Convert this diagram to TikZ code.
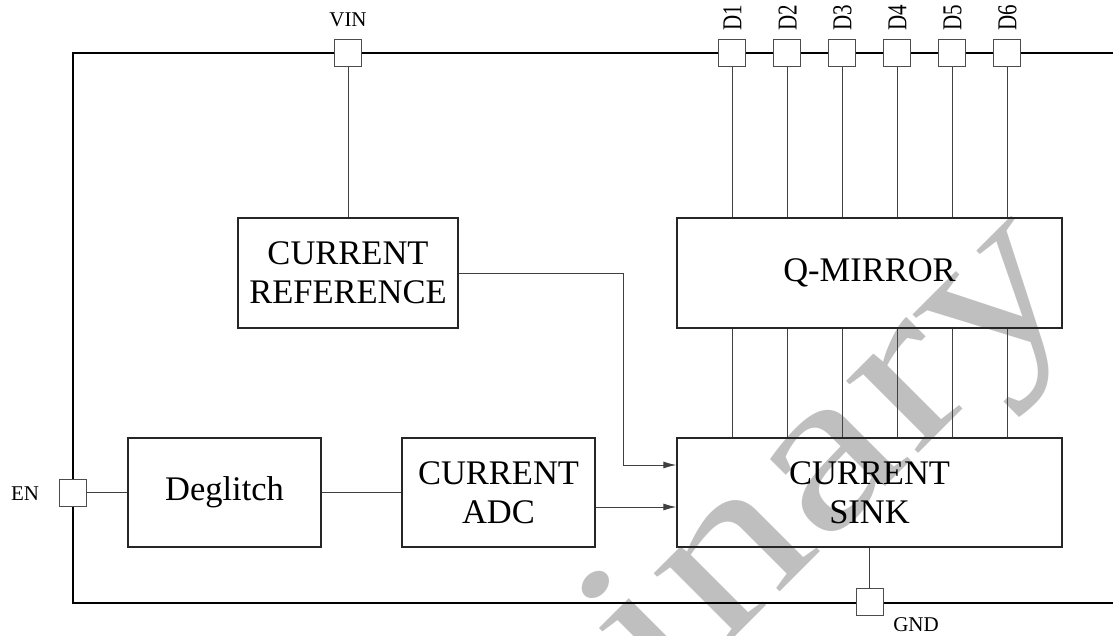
\documentclass[tikz,border=0pt]{standalone}
\usepackage{fontspec}
\setmainfont{Liberation Serif}
\usetikzlibrary{arrows.meta,calc}
\begin{document}
\begin{tikzpicture}[x=1pt,y=-1pt,
  blk/.style={draw=black!85, line width=1.3pt, inner sep=0pt, align=center, font=\fontsize{34.5}{39}\selectfont},
  pin/.style={draw=black!70, fill=white, line width=0.9pt, minimum size=27pt, inner sep=0pt},
  lbl/.style={inner sep=0pt, font=\fontsize{21}{24}\selectfont},
  dlbl/.style={lbl, rotate=90, yscale=1.3},
  wire/.style={draw=black!75, line width=1pt},
  arr/.style={wire, -{Latex[length=13pt,width=7pt]}},
  outline/.style={draw=black, line width=2pt},
  wm/.style={inner sep=0pt, text=black!25, font=\fontsize{222}{230}\selectfont}]
\useasboundingbox (0,0) rectangle (1113,635);
\clip (0,0) rectangle (1113,635);
% watermark
\coordinate (wy) at (982,390);
\node[wm, rotate=45, xscale=1.3, anchor=base east] (wmA) at (wy) {Preliminar};
\node[wm, rotate=45, xscale=1.3, anchor=base west] (wmB) at (wy) {y};
% frame
\draw[outline] (1125,53) -- (73,53) -- (73,603) -- (1125,603);
% blocks
\node[blk, minimum width=220, minimum height=110] (ref) at (348,273) {CURRENT\\REFERENCE};
\node[blk, minimum width=385, minimum height=110] (qm) at (869.5,273) {Q-MIRROR};
\node[blk, minimum width=385, minimum height=109] (sink) at (869.5,492.5) {CURRENT\\SINK};
\node[blk, minimum width=193, minimum height=109] (deg) at (224.5,492.5) {Deglitch};
\node[blk, minimum width=193, minimum height=109] (adc) at (498.5,492.5) {CURRENT\\ADC};
% pins
\node[pin] (vin) at (348,53) {};
\foreach \i in {1,...,6} {
  \node[pin] (d\i) at ({732+55*(\i-1)},53) {};
  \node[dlbl] (dl\i) at ({732.5+55*(\i-1)},17.5) {D\i};
  \draw[wire] (d\i.south) -- (d\i.south |- qm.north);
  \draw[wire] (d\i.south |- qm.south) -- (d\i.south |- sink.north);
}
\node[pin] (en) at (73,492.5) {};
\node[pin] (gnd) at (869.5,602) {};
% labels
\node[lbl, anchor=base] (vinl) at (348,26) {VIN};
\node[lbl, anchor=base] (enl) at (25,500) {EN};
\node[lbl, anchor=base] (gndl) at (916,631) {GND};
% wires
\draw[wire] (vin.south) -- (ref.north);
\draw[wire] (en.east) -- (deg.west);
\draw[wire] (deg.east) -- (adc.west);
\coordinate (ac) at ($(adc.east)+(0,14.5)$);
\draw[arr] (ac) -- (ac -| sink.west);
\coordinate (rc) at (623,465);
\draw[arr] (ref.east) -| (rc) -- (rc -| sink.west);
\draw[wire] (gnd.north) -- (gnd.north |- sink.south);
\end{tikzpicture}
\end{document}
